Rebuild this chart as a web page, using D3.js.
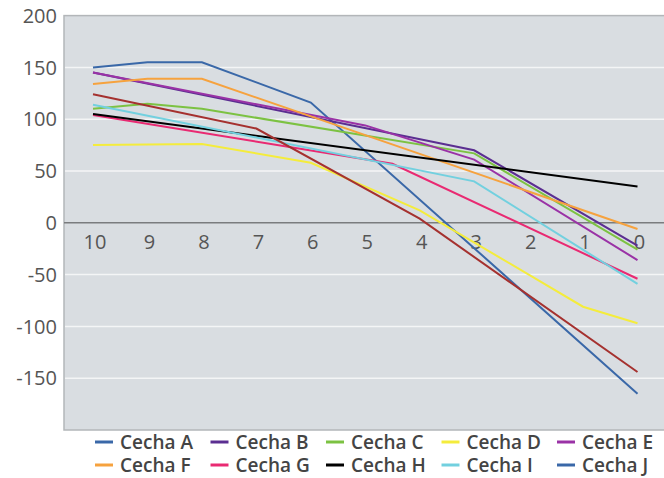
<!DOCTYPE html>
<html>
<head>
	<meta charset="utf-8">
	<title>Cechy</title>
	<script src="https://cdnjs.cloudflare.com/ajax/libs/d3/7.8.5/d3.min.js"></script>
	<style type="text/css">
		body { margin: 0; background: #fff; }
		.tick-label {
			font-family: "Open Sans", sans-serif;
			font-size: 20px;
			fill: #555;
		}
		.legend text {
			font-family: "Open Sans", sans-serif;
			font-size: 19px;
			font-weight: 600;
			fill: #444;
		}
	</style>
</head>
<body>
	<script type="text/javascript">
		var width = 664;
		var height = 478;

		var xLabels = [10, 9, 8, 7, 6, 5, 4, 3, 2, 1, 0];
		var yTicks = [200, 150, 100, 50, 0, -50, -100, -150];
		var names = ["Cecha A", "Cecha B", "Cecha C", "Cecha D", "Cecha E",
					 "Cecha F", "Cecha G", "Cecha H", "Cecha I", "Cecha J"];
		var lineColors = ["#3a68a8", "#5b2e91", "#7cc242", "#f4ec3c", "#9a32a6",
						  "#f6a23e", "#e92a72", "#000000", "#72d0df", "#a5312f"];
		// legend marker of J is blue in the original, not the line colour
		var legendColors = ["#3a68a8", "#5b2e91", "#7cc242", "#f4ec3c", "#9a32a6",
							"#f6a23e", "#e92a72", "#000000", "#72d0df", "#3a68a8"];

		// [x, y] points
		var cechaA = [[10, 150], [9, 155], [8, 155], [6, 116], [0, -165]];
		var cechaB = [[10, 145], [3, 70], [0, -22]];
		var cechaC = [[10, 110], [9, 115], [8, 110], [3, 67], [0, -26]];
		var cechaD = [[10, 75], [8, 76], [6, 58], [4, 12], [1, -81], [0, -97]];
		var cechaE = [[10, 145], [5, 94], [3, 61], [0, -36]];
		var cechaF = [[10, 134], [9, 139], [8, 139], [0, -6]];
		var cechaG = [[10, 104], [4.5, 57], [0, -54]];
		var cechaH = [[10, 105], [0, 35]];
		var cechaI = [[10, 114], [3, 40], [0, -59]];
		var cechaJ = [[10, 124], [7, 91], [4, 4], [0, -144]];
		var series = [cechaA, cechaB, cechaC, cechaD, cechaE,
					  cechaF, cechaG, cechaH, cechaI, cechaJ];

		var plotLeft = 64, plotTop = 15.6, plotBottom = 430;

		var svg = d3.select("body")
					.append("svg")
					.attr("width", width)
					.attr("height", height);

		var xScale = d3.scaleLinear()
						.domain([10, 0])
						.range([93, 637.5]);

		var yScale = d3.scaleLinear()
						.domain([-200, 200])
						.range([plotBottom, plotTop]);

		// plot background
		svg.append("rect")
			.attr("x", plotLeft)
			.attr("y", plotTop)
			.attr("width", width - plotLeft + 5)
			.attr("height", plotBottom - plotTop)
			.attr("fill", "#d9dde1")
			.attr("stroke", "#b3b6b9")
			.attr("stroke-width", 1.5);

		// grid
		svg.selectAll("line.grid")
			.data(yTicks.filter(function (d) { return d != 0 && d != 200; }))
			.enter()
			.append("line")
			.attr("class", "grid")
			.attr("x1", plotLeft + 1)
			.attr("x2", width)
			.attr("y1", function (d) { return yScale(d); })
			.attr("y2", function (d) { return yScale(d); })
			.attr("stroke", "#f4f5f6")
			.attr("stroke-width", 1.5);

		// zero line
		svg.append("line")
			.attr("x1", plotLeft)
			.attr("x2", width)
			.attr("y1", yScale(0))
			.attr("y2", yScale(0))
			.attr("stroke", "#7a7c7e")
			.attr("stroke-width", 1.5);

		// y labels
		svg.selectAll("text.ylab")
			.data(yTicks)
			.enter()
			.append("text")
			.attr("class", "tick-label ylab")
			.attr("x", 57)
			.attr("y", function (d) { return yScale(d); })
			.attr("dy", "0.36em")
			.attr("text-anchor", "end")
			.text(function (d) { return d; });

		// x labels, sitting under the zero line
		svg.selectAll("text.xlab")
			.data(xLabels)
			.enter()
			.append("text")
			.attr("class", "tick-label xlab")
			.attr("x", function (d) { return xScale(d) + 2; })
			.attr("y", yScale(0) + 26)
			.attr("text-anchor", "middle")
			.text(function (d) { return d; });

		var line = d3.line()
					.x(function (d) { return xScale(d[0]); })
					.y(function (d) { return yScale(d[1]); });

		svg.selectAll("path.series")
			.data(series)
			.enter()
			.append("path")
			.attr("class", "series")
			.attr("d", line)
			.attr("fill", "none")
			.attr("stroke", function (d, i) { return lineColors[i]; })
			.attr("stroke-width", 2);

		// legend, 5 per row
		var legend = svg.append("g")
						.attr("class", "legend");

		legend.selectAll("g")
			.data(names)
			.enter()
			.append("g")
			.each(function (d, i) {
				var g = d3.select(this);
				var lx = 95 + (i % 5) * 115.5;
				var ly = i < 5 ? 442 : 465;
				g.append("line")
					.attr("x1", lx)
					.attr("x2", lx + 18)
					.attr("y1", ly)
					.attr("y2", ly)
					.attr("stroke", legendColors[i])
					.attr("stroke-width", 3);
				g.append("text")
					.attr("x", lx + 25)
					.attr("y", ly)
					.attr("dy", "0.36em")
					.text(d);
			});
	</script>
</body>
</html>
